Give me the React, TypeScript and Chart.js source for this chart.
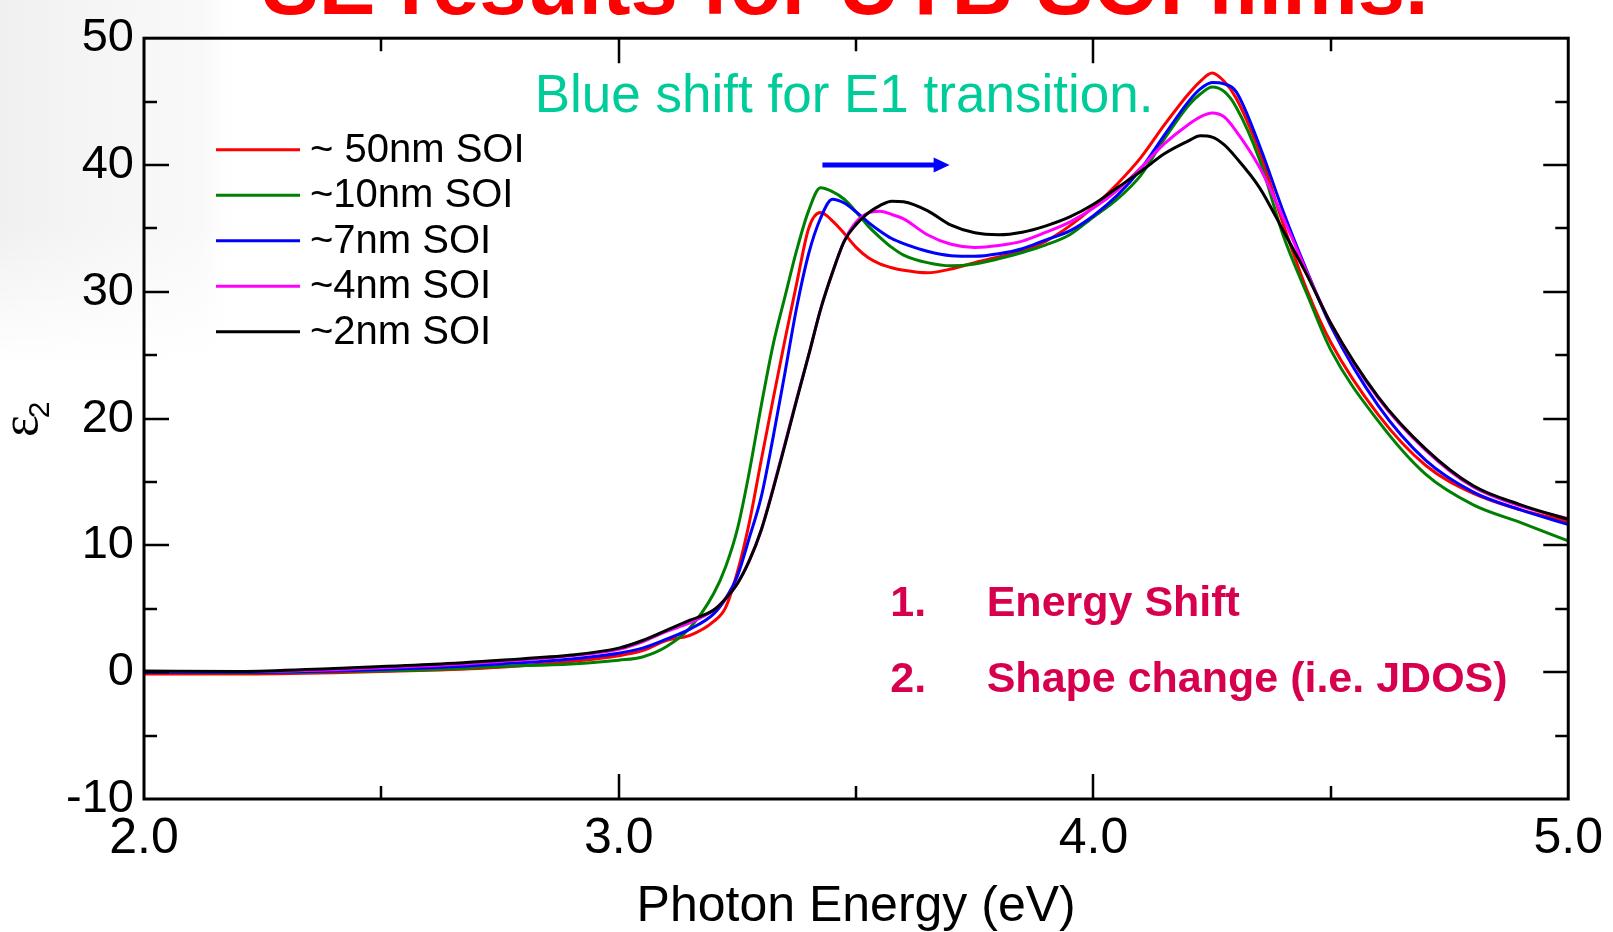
import React, { useEffect, useRef } from "react";
import { Chart, registerables } from "chart.js";

Chart.register(...registerables);

// Photon energy grid (eV)
const energy = [
  2.0, 2.2, 2.4, 2.6, 2.75, 2.9, 3.0, 3.05, 3.1, 3.15,
  3.2, 3.225, 3.25, 3.275, 3.3, 3.325, 3.35, 3.375, 3.4, 3.425,
  3.45, 3.475, 3.5, 3.525, 3.55, 3.575, 3.6, 3.65, 3.7, 3.75,
  3.8, 3.85, 3.9, 3.95, 4.0, 4.05, 4.1, 4.15, 4.2, 4.225,
  4.25, 4.275, 4.3, 4.35, 4.4, 4.45, 4.5, 4.6, 4.7, 4.8,
  4.9, 5.0,
];

// epsilon_2 for each SOI thickness
const soi50nm = [
  -0.15, -0.15, -0.05, 0.15, 0.4, 0.85, 1.3, 1.7, 2.5, 2.9,
  4.0, 5.1, 7.9, 11.8, 16.7, 21.5, 26.2, 30.7, 35.0, 36.25,
  35.6, 34.6, 33.5, 32.7, 32.2, 31.9, 31.7, 31.5, 31.8, 32.3,
  32.75, 33.2, 34.0, 35.2, 36.7, 38.5, 40.6, 43.2, 45.6, 46.6,
  47.25, 46.6, 45.3, 41.0, 35.3, 30.1, 26.0, 20.3, 16.3, 14.1,
  12.8, 11.9,
];
const soi10nm = [
  0.0, -0.05, 0.05, 0.2, 0.45, 0.65, 0.95, 1.2, 2.0, 3.5,
  6.2, 8.3, 11.3, 15.8, 21.0, 25.8, 29.6, 33.3, 36.4, 38.2,
  37.9, 37.3, 36.3, 35.2, 34.3, 33.5, 32.9, 32.3, 32.05, 32.2,
  32.6, 33.1, 33.7, 34.5, 35.9, 37.3, 39.2, 42.1, 44.7, 45.6,
  46.15, 45.8, 44.6, 40.4, 34.4, 29.8, 25.4, 19.8, 15.6, 13.2,
  11.8, 10.35,
];
const soi7nm = [
  0.0, 0.0, 0.1, 0.35, 0.65, 1.05, 1.5, 1.9, 2.6, 3.4,
  4.6, 5.8, 7.6, 10.6, 13.8, 18.5, 23.6, 28.8, 33.0, 35.8,
  37.3, 37.0, 36.3, 35.5, 34.8, 34.2, 33.8, 33.2, 32.85, 32.8,
  33.0, 33.4, 34.1, 34.8, 36.0, 37.6, 39.7, 42.4, 45.0, 46.0,
  46.5, 46.4, 45.8, 41.5, 36.3, 31.6, 27.3, 21.0, 16.7, 14.2,
  12.8, 11.65,
];
const soi4nm = [
  0.05, 0.05, 0.2, 0.5, 0.85, 1.3, 1.8, 2.4, 3.2, 3.9,
  4.9, 5.8, 7.0, 8.8, 11.2, 14.5, 18.0, 21.6, 25.0, 28.6,
  31.5, 34.0, 35.5, 36.2, 36.35, 36.1, 35.75, 34.5, 33.75, 33.5,
  33.65, 34.0, 34.7, 35.5, 36.6, 38.0, 39.8, 41.7, 43.2, 43.8,
  44.1, 43.8, 42.7, 39.8, 35.8, 31.5, 27.5, 21.6, 17.5, 14.6,
  13.1, 12.1,
];
const soi2nm = [
  0.1, 0.05, 0.3, 0.6, 0.95, 1.35, 1.9, 2.5, 3.3, 4.1,
  4.9, 5.8, 7.0, 8.8, 11.2, 14.4, 17.9, 21.5, 25.0, 28.6,
  31.5, 34.0, 35.3, 36.2, 36.8, 37.15, 37.1, 36.4, 35.25, 34.65,
  34.5, 34.7, 35.2, 35.9, 36.9, 38.2, 39.5, 40.9, 41.9, 42.3,
  42.2, 41.6, 40.6, 38.2, 34.8, 31.3, 27.5, 21.7, 17.6, 14.7,
  13.2, 12.05,
];

const seriesValues = [soi50nm, soi10nm, soi7nm, soi4nm, soi2nm];
const seriesLabels = ["~ 50nm SOI", "~10nm SOI", "~7nm SOI", "~4nm SOI", "~2nm SOI"];
const seriesColors = ["#FF0000", "#008000", "#0000FF", "#FF00FF", "#000000"];

// axis ranges and tick steps
const xRange = [2, 5];
const yRange = [-10, 50];
const xStep = 0.5;
const yStep = 5;
const yLabelStep = 10;

// text content
const slideTitle = "SE results for UTB SOI films.";
const xAxisTitle = "Photon Energy (eV)";
const yAxisSymbol = "ε";
const yAxisSub = "2";
const shiftNote = "Blue shift for E1 transition.";
const listNumbers = ["1.", "2."];
const listItems = ["Energy Shift", "Shape change (i.e. JDOS)"];

// annotation anchors in data coordinates
const shiftNoteAt = [2.823, 44.16];
const arrowFrom = [3.429, 40.0];
const arrowTo = [3.697, 40.0];
const listNumberX = 3.572;
const listItemX = 3.775;
const listBaselines = [4.46, -1.6];

const FONT = "'Liberation Sans', Arial, sans-serif";

const decorPlugin = {
  id: "decor",
  beforeDraw(chart: any) {
    const ctx = chart.ctx;
    ctx.save();
    ctx.fillStyle = "#FFFFFF";
    ctx.fillRect(0, 0, chart.width, chart.height);
    // faded background image remnant in the top-left corner
    const strips = 36;
    for (let i = 0; i < strips; i++) {
      const y0 = i * 10;
      const fade = y0 < 220 ? 1 : Math.max(0, 1 - (y0 - 220) / 140);
      const g = ctx.createLinearGradient(0, 0, 240, 0);
      g.addColorStop(0, `rgba(228,228,228,${0.55 * fade})`);
      g.addColorStop(0.85, `rgba(238,238,238,${0.35 * fade})`);
      g.addColorStop(1, "rgba(255,255,255,0)");
      ctx.fillStyle = g;
      ctx.fillRect(0, y0, 240, 10);
    }
    // slide title, cut by the top edge
    ctx.fillStyle = "#FF0000";
    ctx.font = `bold 85px ${FONT}`;
    ctx.textBaseline = "alphabetic";
    ctx.textAlign = "left";
    ctx.fillText(slideTitle, 262, 14);
    ctx.restore();
  },
  afterDatasetsDraw(chart: any) {
    const ctx = chart.ctx;
    const { left, right, top, bottom } = chart.chartArea;
    const xs = chart.scales.x;
    const ys = chart.scales.y;
    ctx.save();

    // frame
    ctx.strokeStyle = "#000";
    ctx.lineWidth = 3;
    ctx.strokeRect(left, top, right - left, bottom - top);

    // inward ticks on all four sides
    ctx.lineWidth = 2.5;
    ctx.beginPath();
    xs.ticks.forEach((t: any) => {
      if (t.value <= xRange[0] || t.value >= xRange[1]) return;
      const px = Math.round(xs.getPixelForValue(t.value));
      const major = Math.abs(t.value - Math.round(t.value)) < 1e-9;
      const len = major ? 25 : 13;
      ctx.moveTo(px, bottom);
      ctx.lineTo(px, bottom - len);
      ctx.moveTo(px, top);
      ctx.lineTo(px, top + len);
    });
    ys.ticks.forEach((t: any) => {
      if (t.value <= yRange[0] || t.value >= yRange[1]) return;
      const py = Math.round(ys.getPixelForValue(t.value));
      const major = t.value % yLabelStep === 0;
      const len = major ? 25 : 13;
      ctx.moveTo(left, py);
      ctx.lineTo(left + len, py);
      ctx.moveTo(right, py);
      ctx.lineTo(right - len, py);
    });
    ctx.stroke();

    // legend
    ctx.font = `40px ${FONT}`;
    ctx.textBaseline = "middle";
    ctx.textAlign = "left";
    chart.data.datasets.forEach((ds: any, i: number) => {
      const y = top + 111.5 + i * 45.5;
      ctx.strokeStyle = ds.borderColor;
      ctx.lineWidth = 3;
      ctx.beginPath();
      ctx.moveTo(left + 72, y);
      ctx.lineTo(left + 156, y);
      ctx.stroke();
      ctx.fillStyle = "#000";
      ctx.fillText(ds.label, left + 166, y + 1);
    });

    // "Blue shift" note
    ctx.textBaseline = "alphabetic";
    ctx.fillStyle = "#00CC99";
    ctx.font = `53px ${FONT}`;
    ctx.fillText(shiftNote, xs.getPixelForValue(shiftNoteAt[0]), ys.getPixelForValue(shiftNoteAt[1]));

    // blue arrow
    const ax1 = xs.getPixelForValue(arrowFrom[0]);
    const ax2 = xs.getPixelForValue(arrowTo[0]);
    const ay = ys.getPixelForValue(arrowFrom[1]);
    ctx.fillStyle = "#0000FF";
    ctx.fillRect(ax1, ay - 2.5, ax2 - ax1 - 14, 5);
    ctx.beginPath();
    ctx.moveTo(ax2, ay);
    ctx.lineTo(ax2 - 16, ay - 7.5);
    ctx.lineTo(ax2 - 16, ay + 7.5);
    ctx.closePath();
    ctx.fill();

    // numbered list
    ctx.fillStyle = "#D6004F";
    ctx.font = `bold 43px ${FONT}`;
    listItems.forEach((item, i) => {
      const by = ys.getPixelForValue(listBaselines[i]);
      ctx.fillText(listNumbers[i], xs.getPixelForValue(listNumberX), by);
      ctx.fillText(item, xs.getPixelForValue(listItemX), by);
    });

    // y axis title: epsilon with subscript 2, rotated
    ctx.fillStyle = "#000";
    ctx.translate(37, 437);
    ctx.rotate(-Math.PI / 2);
    ctx.font = `52px 'Liberation Serif', serif`;
    ctx.textBaseline = "alphabetic";
    ctx.fillText(yAxisSymbol, 0, 0);
    const w = ctx.measureText(yAxisSymbol).width;
    ctx.font = `30px ${FONT}`;
    ctx.fillText(yAxisSub, w - 3, 12);

    ctx.restore();
  },
};

export default function App() {
  const canvasRef = useRef<HTMLCanvasElement | null>(null);

  useEffect(() => {
    document.body.style.margin = "0";
    const canvas = canvasRef.current;
    if (!canvas) return;
    const datasets = seriesValues.map((vals, i) => ({
      label: seriesLabels[i],
      data: energy.map((x, j) => ({ x, y: vals[j] })),
      borderColor: seriesColors[i],
      backgroundColor: seriesColors[i],
      borderWidth: 3,
      pointRadius: 0,
      fill: false,
      cubicInterpolationMode: "monotone" as const,
      order: seriesValues.length - 1 - i,
    }));

    const chart = new Chart(canvas, {
      type: "line",
      data: { datasets },
      plugins: [decorPlugin],
      options: {
        responsive: false,
        animation: false,
        devicePixelRatio: 1,
        layout: { padding: { top: 36, right: 43, bottom: 0, left: 0 } },
        plugins: {
          legend: { display: false },
          tooltip: { enabled: false },
          title: { display: false },
        },
        scales: {
          x: {
            type: "linear",
            min: xRange[0],
            max: xRange[1],
            grid: { display: false, drawTicks: false },
            border: { display: false },
            ticks: {
              stepSize: xStep,
              autoSkip: false,
              maxRotation: 0,
              minRotation: 0,
              padding: 10,
              color: "#000",
              font: { size: 50, family: FONT },
              callback: (v: any) =>
                Math.abs(v - Math.round(v)) < 1e-9 ? Number(v).toFixed(1) : "",
            },
            title: {
              display: true,
              text: xAxisTitle,
              color: "#000",
              font: { size: 50, family: FONT, lineHeight: 1 },
              padding: { top: 0, bottom: 0 },
            },
            afterFit: (s: any) => {
              s.height = 133;
            },
          },
          y: {
            type: "linear",
            min: yRange[0],
            max: yRange[1],
            grid: { display: false, drawTicks: false },
            border: { display: false },
            ticks: {
              stepSize: yStep,
              autoSkip: false,
              padding: 10,
              color: "#000",
              font: { size: 47, family: FONT },
              callback: (v: any) => (Number(v) % yLabelStep === 0 ? String(v) : ""),
            },
            afterFit: (s: any) => {
              s.width = 144;
            },
          },
        },
      },
    });
    return () => chart.destroy();
  }, []);

  return (
    <div style={{ width: 1613, height: 932, overflow: "hidden" }}>
      <canvas ref={canvasRef} width={1613} height={932} style={{ display: "block" }} />
    </div>
  );
}
